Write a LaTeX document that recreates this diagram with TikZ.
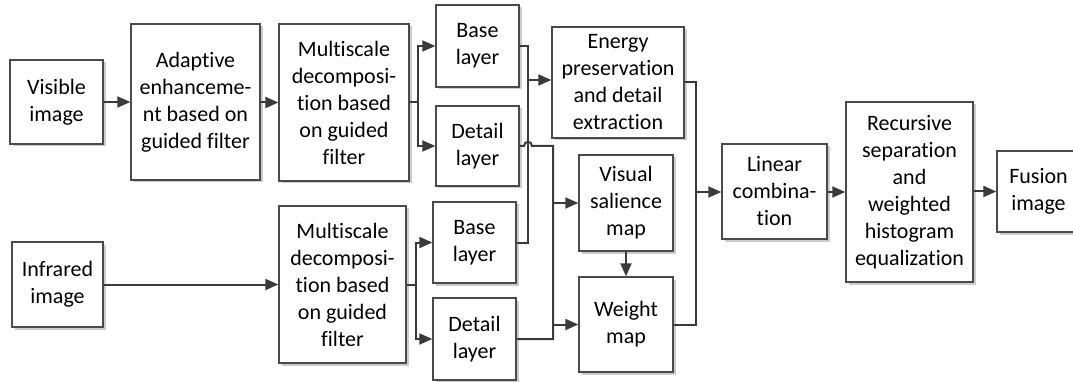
\documentclass[tikz,border=0pt]{standalone}
\usepackage{fontspec}
\setmainfont{Carlito}[Ligatures=NoCommon]
\usetikzlibrary{arrows.meta,shadows}
\definecolor{linegray}{HTML}{3A3A3A}
\definecolor{boxgray}{HTML}{4A4A4A}
\tikzset{
  blk/.style={draw=boxgray, line width=1.4pt, fill=white, align=center,
    inner sep=0pt, font=\fontsize{22}{27}\selectfont,
    drop shadow={shadow xshift=2.5pt, shadow yshift=-2.5pt, fill=black!20, opacity=1}},
  wire/.style={draw=linegray, line width=2pt},
  flow/.style={wire, -{Triangle[length=13pt,width=11pt]}},
}
\begin{document}
\begin{tikzpicture}[x=1pt,y=-1pt]
\path[use as bounding box] (0,0) rectangle (1073,382);
\clip (0,0) rectangle (1073,382);

% processing blocks
\node[blk, minimum width=93pt,  minimum height=84pt]  (vis)   at (56.5,102)   {Visible\\image};
\node[blk, minimum width=129pt, minimum height=156pt] (ada)   at (195.5,102)  {Adaptive\\enhanceme-\\nt based on\\guided filter};
\node[blk, minimum width=130pt, minimum height=157pt] (ms1)   at (344,102.5)  {Multiscale\\decomposi-\\tion based\\on guided\\filter};
\node[blk, minimum width=83pt,  minimum height=82pt]  (base1) at (477.5,46)   {Base\\layer};
\node[blk, minimum width=83pt,  minimum height=80pt]  (det1)  at (477.5,146)  {Detail\\layer};
\node[blk, minimum width=132pt, minimum height=111pt] (eng)   at (618,82.5)   {Energy\\preservation\\and detail\\extraction};
\node[blk, minimum width=94pt,  minimum height=96pt]  (vsal)  at (626,203)    {Visual\\salience\\map};
\node[blk, minimum width=94pt,  minimum height=95pt]  (wmap)  at (626,324.5)  {Weight\\map};
\node[blk, minimum width=91pt,  minimum height=85pt]  (inf)   at (57.5,284.5) {Infrared\\image};
\node[blk, minimum width=127pt, minimum height=157pt] (ms2)   at (342.5,284.5){Multiscale\\decomposi-\\tion based\\on guided\\filter};
\node[blk, minimum width=83pt,  minimum height=81pt]  (base2) at (474.5,242.5) {Base\\layer};
\node[blk, minimum width=83pt,  minimum height=82pt]  (det2)  at (474.5,339)  {Detail\\layer};
\node[blk, minimum width=105pt, minimum height=95pt]  (lin)   at (774.5,191.5) {Linear\\combina-\\tion};
\node[blk, minimum width=127pt, minimum height=180pt] (rec)   at (909.5,192)  {Recursive\\separation\\and\\weighted\\histogram\\equalization};
\node[blk, minimum width=83pt,  minimum height=81pt]  (fus)   at (1038.5,191.5) {Fusion\\image};

% junction points
\coordinate (s1) at (418,102.5);
\coordinate (s2) at (416,284.5);
\coordinate (bj) at (528,80);
\coordinate (dj) at (553,146);
\coordinate (ej) at (696,192);

% visible branch
\draw[flow] (vis) -- (ada);
\draw[flow] (ada.east |- ms1) -- (ms1);
\draw[wire] (ms1.east) -- (s1);
\draw[flow] (s1) |- (base1.west);
\draw[flow] (s1) |- (det1.west);

% infrared branch
\draw[flow] (inf.east |- ms2) -- (ms2);
\draw[wire] (ms2.east) -- (s2);
\draw[flow] (s2) |- (base2.west);
\draw[flow] (s2) |- (det2.west);

% base layers into energy preservation
\draw[wire] (base1.east) -| (bj |- base2.east) -- (base2.east);
\draw[flow] (bj) -- (bj -| eng.west);

% detail layers into saliency and weight maps (hop over the base bus)
\draw[wire] (det1.east) -- (524,146) .. controls (524,140.5) and (532,140.5) .. (532,146)
  -- (dj) -- (dj |- det2.east) -- (det2.east);
\draw[flow] (dj |- vsal) -- (vsal.west);
\draw[flow] (dj |- wmap) -- (wmap.west);
\draw[flow] (vsal.south) -- (wmap.north);

% merge into linear combination
\draw[wire] (eng.east) -| (ej |- wmap.east) -- (wmap.east);
\draw[flow] (ej) -- (ej -| lin.west);
\draw[flow] (lin.east |- rec) -- (rec);
\draw[flow] (rec.east |- fus) -- (fus);
\end{tikzpicture}
\end{document}
